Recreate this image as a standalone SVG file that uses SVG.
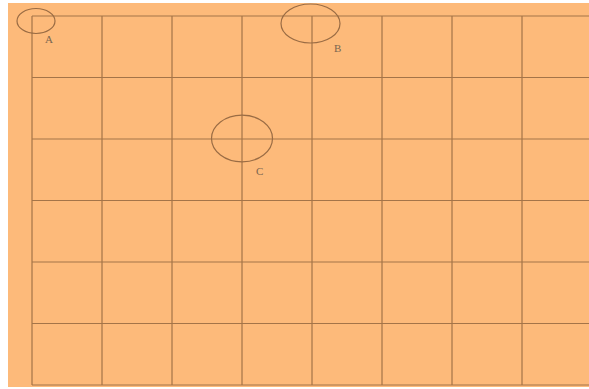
<svg xmlns="http://www.w3.org/2000/svg" width="589" height="389" viewBox="0 0 589 389">
<style>
.g{stroke:#a47448;stroke-width:1.2;fill:none}
.c{stroke:#9a6c44;stroke-width:1.2;fill:none}
.t{font-family:"Liberation Serif",serif;font-size:11px;fill:#7a6650}
</style>
<rect x="0" y="0" width="589" height="389" fill="#ffffff"/>
<rect x="8" y="3" width="581" height="384" fill="#fdba7a"/>
<g id="grid">
<path class="g" d="M32 16V385M102 16V385M172 16V385M242 16V385M312 16V385M382 16V385M452 16V385M522 16V385M32 16H589M32 77.5H589M32 139H589M32 200.5H589M32 262H589M32 323.5H589M32 385H589"/>
</g>
<g id="A"><ellipse class="c" cx="36" cy="21" rx="19" ry="12.5"/><text class="t" x="45" y="43">A</text></g>
<g id="B"><ellipse class="c" cx="310.5" cy="23.5" rx="29.5" ry="19.5"/><text class="t" x="334" y="52">B</text></g>
<g id="C"><ellipse class="c" cx="242" cy="138.5" rx="30.5" ry="23.3"/><text class="t" x="256" y="175">C</text></g>
</svg>
